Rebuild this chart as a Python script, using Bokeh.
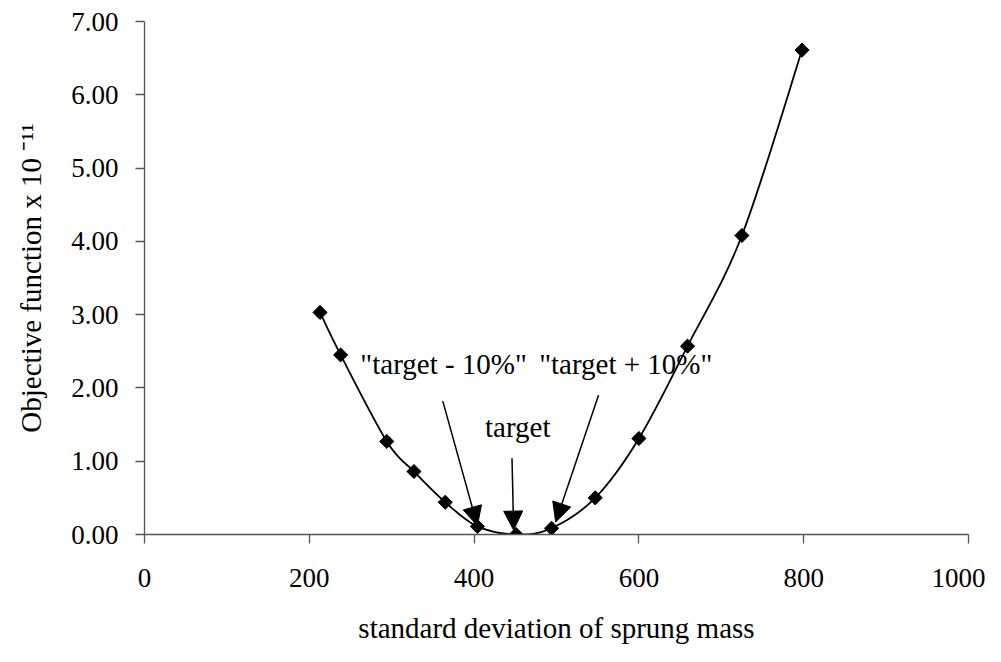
import numpy as np
from bokeh.plotting import figure
from bokeh.models import Range1d, FixedTicker, Label, Arrow, NormalHead, NumeralTickFormatter
from bokeh.embed import file_html
from bokeh.resources import INLINE

# ---- data ----
sigma = [213, 238, 294, 327, 365, 404, 451, 494, 547, 600, 659, 725, 798]
objective = [3.03, 2.45, 1.27, 0.86, 0.44, 0.11, 0.00, 0.085, 0.50, 1.31, 2.57, 4.08, 6.61]
x_ticks = [0, 200, 400, 600, 800, 1000]
y_ticks = [0, 1, 2, 3, 4, 5, 6, 7]

note_text = ['"target - 10%"', '"target + 10%"', 'target']
note_x = [363, 584, 453]
note_y = [2.32, 2.32, 1.47]
arrow_x0 = [362, 446, 551]
arrow_y0 = [1.82, 1.04, 1.90]
arrow_x1 = [404, 448, 499]
arrow_y1 = [0.12, 0.06, 0.17]

FONT = "Liberation Serif"
W, H = 985, 646
L, R, T, B = 144, 17, 21, 105

p = figure(width=W, height=H, output_backend="svg", toolbar_location=None,
           x_range=Range1d(0, 1000), y_range=Range1d(0, 7))
p.min_border_left = L
p.min_border_right = R
p.min_border_top = T
p.min_border_bottom = B
p.outline_line_color = None
p.xgrid.grid_line_color = None
p.ygrid.grid_line_color = None
p.background_fill_color = "white"
p.border_fill_color = "white"

for ax in (p.xaxis[0], p.yaxis[0]):
    ax.axis_line_color = "#555555"
    ax.axis_line_width = 1.3
    ax.major_tick_line_color = "#555555"
    ax.major_tick_line_width = 1.3
    ax.major_tick_in = 0
    ax.major_tick_out = 9
    ax.minor_tick_line_color = None
    ax.major_label_text_font = FONT
    ax.major_label_text_font_size = "27px"
    ax.major_label_text_color = "black"
    ax.axis_label_text_font = FONT
    ax.axis_label_text_font_size = "29px"
    ax.axis_label_text_font_style = "normal"
    ax.axis_label_text_color = "black"

p.xaxis.ticker = FixedTicker(ticks=x_ticks)
p.yaxis.ticker = FixedTicker(ticks=y_ticks)
p.yaxis.formatter = NumeralTickFormatter(format="0.00")
p.xaxis.major_label_standoff = 25
p.yaxis.major_label_standoff = 17
p.xaxis.axis_label = "standard deviation of sprung mass"
p.xaxis.axis_label_standoff = 22
p.yaxis.axis_label = "Objective function x 10 \u207b\u00b9\u00b9"
p.yaxis.axis_label_standoff = 21

# ---- smooth (Excel-like) curve through the points ----
fw = W - L - R
fh = H - T - B
kx = fw / 1000.0
ky = fh / 7.0
P = np.column_stack([np.array(sigma) * kx, np.array(objective) * ky])
n = len(P)
x0s, y0s, x1s, y1s, cx0, cy0, cx1, cy1 = ([] for _ in range(8))
for i in range(n - 1):
    pm = P[i - 1] if i > 0 else P[i]
    p1 = P[i]
    p2 = P[i + 1]
    pp = P[i + 2] if i + 2 < n else P[i + 1]
    c1 = p1 + (p2 - pm) / 6.0
    c2 = p2 - (pp - p1) / 6.0
    x0s.append(p1[0] / kx); y0s.append(p1[1] / ky)
    x1s.append(p2[0] / kx); y1s.append(p2[1] / ky)
    cx0.append(c1[0] / kx); cy0.append(c1[1] / ky)
    cx1.append(c2[0] / kx); cy1.append(c2[1] / ky)

p.bezier(x0=x0s, y0=y0s, x1=x1s, y1=y1s, cx0=cx0, cy0=cy0, cx1=cx1, cy1=cy1,
         line_color="black", line_width=1.8)
p.scatter(sigma, objective, marker="square", angle=np.pi / 4, size=10,
          fill_color="black", line_color="black")

# ---- annotations ----
for t, x, y in zip(note_text, note_x, note_y):
    p.add_layout(Label(x=x, y=y, text=t, text_font=FONT, text_font_size="29px",
                       text_align="center", text_baseline="alphabetic", text_color="black"))
for xa, ya, xb, yb in zip(arrow_x0, arrow_y0, arrow_x1, arrow_y1):
    p.add_layout(Arrow(x_start=xa, y_start=ya, x_end=xb, y_end=yb,
                       line_color="black", line_width=1.5,
                       end=NormalHead(size=19, fill_color="black", line_color="black", line_width=1)))

open("out.html", "w").write(file_html(p, INLINE))
